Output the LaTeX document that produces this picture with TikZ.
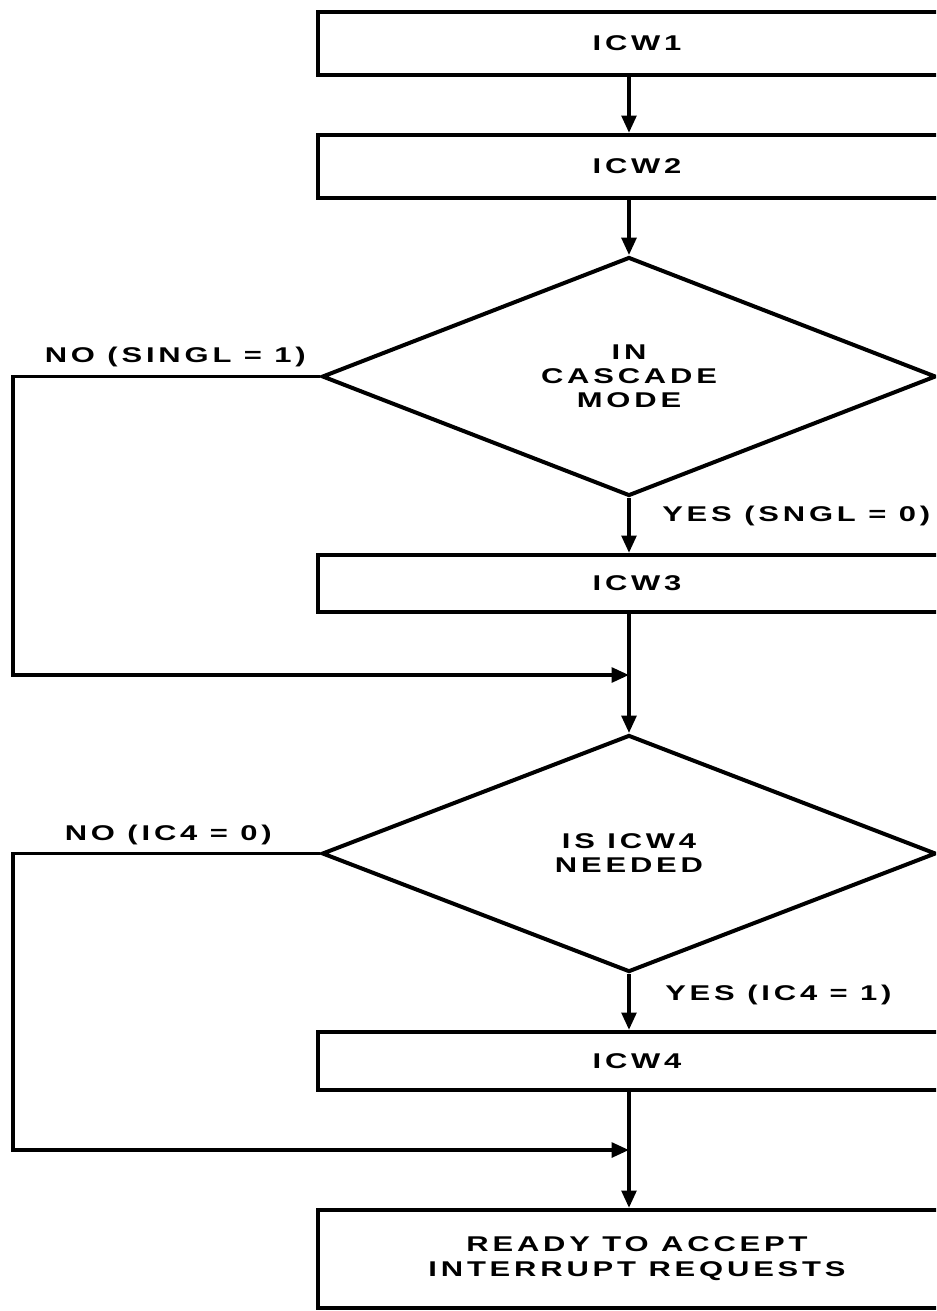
\documentclass[tikz,border=0pt]{standalone}
\usepackage{fontspec}
\usetikzlibrary{shapes.geometric,arrows.meta}
% wide, slightly tracked bold sans for all labels of the flowchart
\newfontfamily\flowfont{Liberation Sans Bold}[FakeStretch=1.45,LetterSpace=18]
\begin{document}
\begin{tikzpicture}[x=0.75pt,y=-0.75pt,
  lbl/.style={font=\flowfont\fontsize{16pt}{18pt}\selectfont,inner sep=0pt},
  stepbox/.style={draw,line width=3.2pt,rectangle,inner sep=0pt,
    minimum width=478.5pt,lbl,align=center},
  decide/.style={draw,line width=3pt,diamond,inner sep=0pt,
    minimum width=460.5pt,minimum height=177.75pt,lbl,align=center},
  flow/.style={line width=2.7pt,-{Triangle[length=13pt,width=11pt]}}
]
\clip (0,0) rectangle (936,1311);

% boxes and decisions
\node[stepbox,minimum height=47.25pt] (icw1) at (637,43.5) {ICW1};
\node[stepbox,minimum height=47.25pt] (icw2) at (637,166.5) {ICW2};
\node[decide] (d1) at (629,376.5) {IN\\CASCADE\\MODE};
\node[stepbox,minimum height=42.75pt] (icw3) at (637,583.5) {ICW3};
\node[decide] (d2) at (629,853.5) {IS ICW4\\NEEDED};
\node[stepbox,minimum height=43.5pt] (icw4) at (637,1061) {ICW4};
\node[stepbox,minimum height=73.5pt,
  font=\flowfont\fontsize{16pt}{18.75pt}\selectfont] (ready) at (637,1259)
  {READY TO ACCEPT\\INTERRUPT REQUESTS};

% merge points on the main line
\coordinate (m1) at (629,675);
\coordinate (m2) at (629,1150);

% branch labels
\node[lbl,anchor=east] (no1) at (306,357) {NO (SINGL = 1)};
\node[lbl,anchor=west] (yes1) at (662,516) {YES (SNGL = 0)};
\node[lbl,anchor=east] (no2) at (272,835) {NO (IC4 = 0)};
\node[lbl,anchor=west] (yes2) at (665,995) {YES (IC4 = 1)};

% main flow
\draw[flow] (icw1.south -| d1.north) -- (icw2.north -| d1.north);
\draw[flow] (icw2.south -| d1.north) -- (d1.north);
\draw[flow] (d1.south) -- (d1.south |- icw3.north);
\draw[flow] (icw3.south -| d2.north) -- (d2.north);
\draw[flow] (d2.south) -- (d2.south |- icw4.north);
\draw[flow] (icw4.south -| d2.south) -- (d2.south |- ready.north);

% bypass paths
\draw[flow] (d1.west) -- ++(-307,0) |- (m1);
\draw[flow] (d2.west) -- ++(-307,0) |- (m2);
\end{tikzpicture}
\end{document}
